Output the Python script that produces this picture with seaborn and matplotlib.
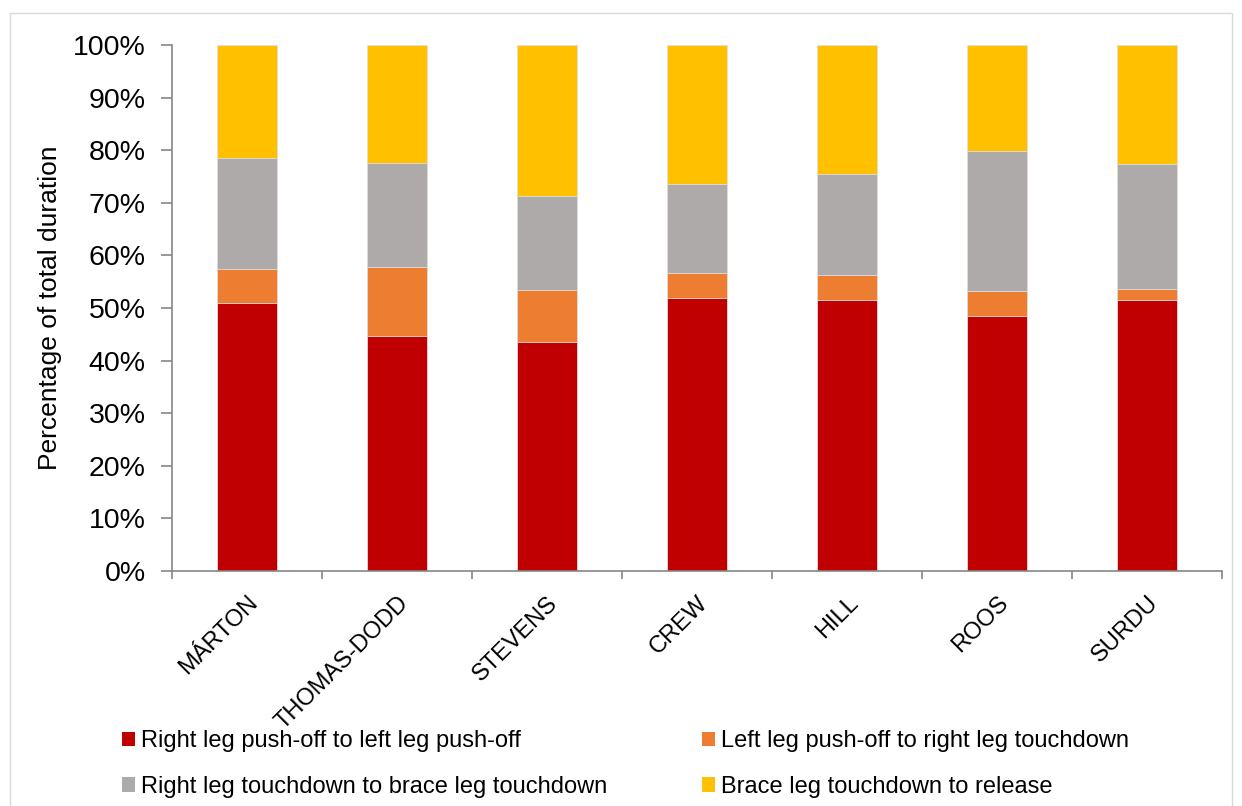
import matplotlib
matplotlib.use("Agg")
import matplotlib.pyplot as plt
from matplotlib.patches import Patch, Rectangle
from matplotlib.ticker import FixedLocator, PercentFormatter
import numpy as np
import pandas as pd
import seaborn as sns

athletes = ["MÁRTON", "THOMAS-DODD", "STEVENS", "CREW", "HILL", "ROOS", "SURDU"]

# Phase durations as a percentage of the total throw duration
push_off = [51.0, 44.6, 43.6, 51.9, 51.6, 48.5, 51.6]
left_to_right = [6.5, 13.2, 9.9, 4.7, 4.7, 4.8, 2.1]
right_to_brace = [21.0, 19.7, 17.7, 16.9, 19.1, 26.6, 23.7]
brace_to_release = [21.5, 22.5, 28.8, 26.5, 24.6, 20.1, 22.6]

phase_labels = [
    "Right leg push-off to left leg push-off",
    "Left leg push-off to right leg touchdown",
    "Right leg touchdown to brace leg touchdown",
    "Brace leg touchdown to release",
]
phase_colors = ["#C00000", "#ED7D31", "#AEAAAA", "#FFC000"]

sns.set_theme(style="white")
plt.rcParams["font.family"] = ["Liberation Sans", "DejaVu Sans"]
plt.rcParams["text.color"] = "black"
plt.rcParams["axes.labelcolor"] = "black"
plt.rcParams["xtick.labelcolor"] = "black"
plt.rcParams["ytick.labelcolor"] = "black"

df = pd.DataFrame({
    "athlete": athletes,
    phase_labels[0]: push_off,
    phase_labels[1]: left_to_right,
    phase_labels[2]: right_to_brace,
    phase_labels[3]: brace_to_release,
})
cum = df[phase_labels].cumsum(axis=1)

fig = plt.figure(figsize=(12.42, 8.06), dpi=100)
fig.patches.append(Rectangle((10 / 1242, -0.01), 1 - 20 / 1242, 1 - 13 / 806 + 0.01,
                             transform=fig.transFigure, fill=False,
                             edgecolor="#D9D9D9", linewidth=1.0))
ax = fig.add_axes([172 / 1242, 1 - 571 / 806, 1050 / 1242, 526 / 806])

# Stacked bars: draw cumulative totals from the top segment downwards
for label, color in reversed(list(zip(phase_labels, phase_colors))):
    sns.barplot(x=df["athlete"], y=cum[label], color=color, width=0.4,
                edgecolor="#E0E0E0", linewidth=0.6, saturation=1, ax=ax,
                order=athletes)

ax.set_xlim(-0.5, len(athletes) - 0.5)
ax.set_ylim(0, 100)
ax.yaxis.set_major_locator(FixedLocator(np.arange(0, 101, 10)))
ax.yaxis.set_major_formatter(PercentFormatter(decimals=0))
ax.set_xlabel("")
ax.set_ylabel("Percentage of total duration", fontsize=19, labelpad=8)

for s in ["top", "right"]:
    ax.spines[s].set_visible(False)
for s in ["left", "bottom"]:
    ax.spines[s].set_color("#868686")
    ax.spines[s].set_linewidth(1.2)

ax.tick_params(axis="y", which="major", direction="out", length=8, width=1.2,
               color="#868686", labelsize=20.5, pad=11, left=True)
ax.xaxis.set_minor_locator(FixedLocator(np.arange(-0.5, len(athletes), 1.0)))
ax.tick_params(axis="x", which="minor", direction="out", length=6, width=1.2,
               color="#868686", bottom=True)
ax.tick_params(axis="x", which="major", length=0, pad=15, labelsize=17)
for t in ax.get_xticklabels():
    t.set_rotation(45)
    t.set_ha("right")
    t.set_rotation_mode("anchor")

# Legend fills column by column; order entries so rows read left to right
order = [0, 2, 1, 3]
handles = [Patch(facecolor=phase_colors[i], edgecolor="none") for i in order]
labels = [phase_labels[i] for i in order]
fig.legend(handles, labels, loc="lower left", ncol=2,
           bbox_to_anchor=(101 / 1242, -13 / 806), frameon=False, fontsize=17,
           handlelength=0.55, handleheight=0.55, handletextpad=0.25,
           columnspacing=4.0, labelspacing=1.0)

fig.savefig("out.png", dpi=100)
